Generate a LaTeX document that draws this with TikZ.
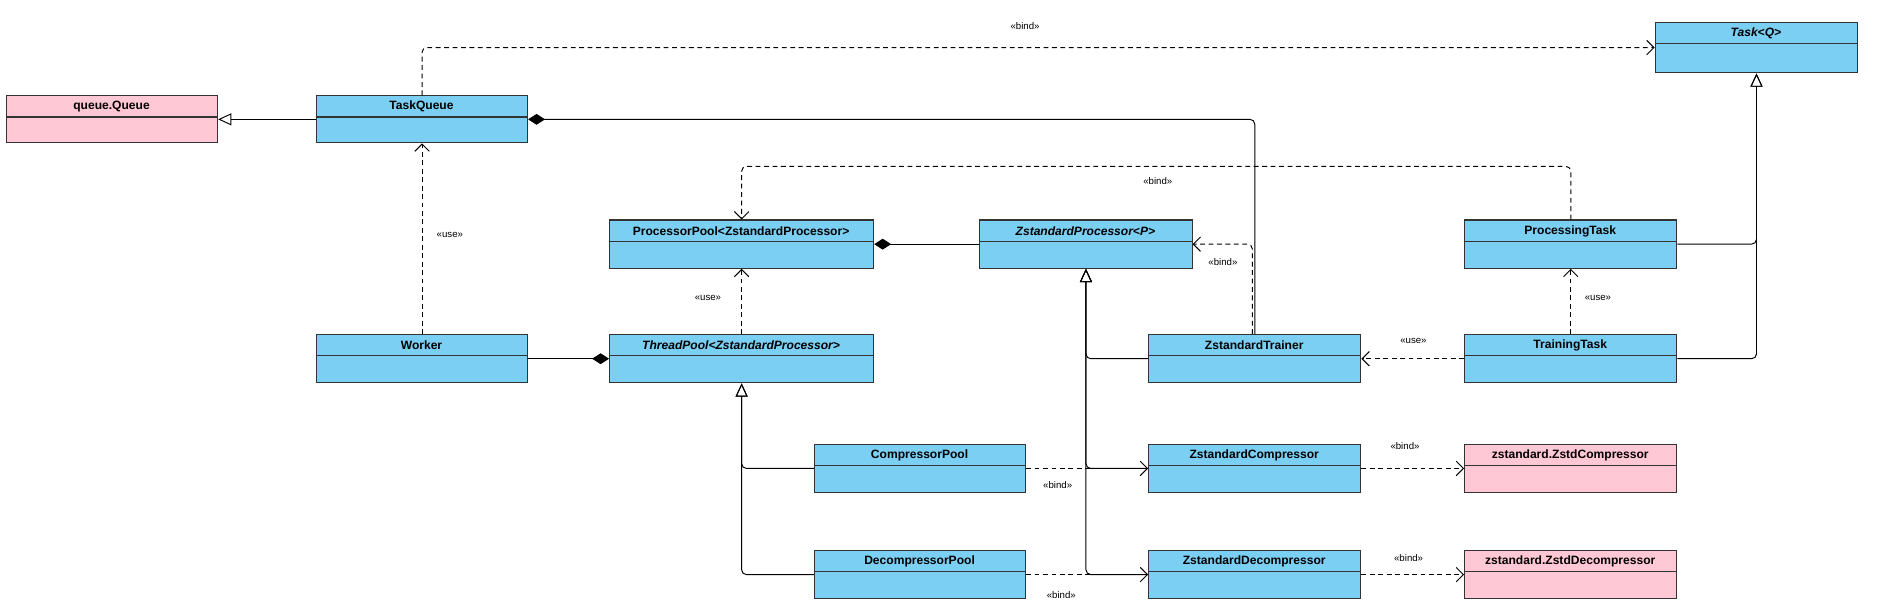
\documentclass[tikz,border=0pt]{standalone}
\usepackage{fontspec}
\setmainfont{Liberation Sans}
\usetikzlibrary{arrows.meta,calc}
\definecolor{ublue}{HTML}{7ACFF3}
\definecolor{upink}{HTML}{FFC8D4}
\newcommand\ubox[7]{%
 \node[box,fill=#7,minimum width={#4pt-#2pt},minimum height={#5pt-#3pt},anchor=north west] (#1) at (#2,#3) {};
 \draw[line width=0.9pt,black!80] (#2,#3+18) -- (#4,#3+18);
 \node[htext] (#1-t) at ({(#2+#4)/2},#3+9.5) {#6};}
\begin{document}
\begin{tikzpicture}[x=1pt,y=-1pt,
 box/.style={draw=black!80,line width=0.9pt,inner sep=0pt},
 htext/.style={font=\fontsize{10}{12}\selectfont\bfseries,inner sep=0pt},
 lbl/.style={font=\fontsize{8}{10}\selectfont,inner sep=0pt},
 conn/.style={line width=0.8pt,rounded corners=4pt},
 dashd/.style={conn,dash pattern=on 4pt off 3pt},
 gen/.style={conn,-{Triangle[open,length=11pt,width=10pt]}},
 dep/.style={dashd,-{Straight Barb[length=6pt,width=12pt]}},
 comp/.style={conn,{Diamond[length=14pt,width=9pt]}-},
 compe/.style={conn,-{Diamond[length=14pt,width=9pt]}}]
\useasboundingbox (0,0) rectangle (1568,506.6);
\ubox{qq}{5}{79}{180}{118}{queue.Queue}{upink}
\ubox{tq}{262}{79}{437}{118}{TaskQueue}{ublue}
\ubox{task}{1372}{18}{1540}{60}{\itshape Task<Q>}{ublue}
\ubox{pp}{505}{182}{724}{222}{ProcessorPool<ZstandardProcessor>}{ublue}
\ubox{zp}{812}{182}{988}{222}{\itshape ZstandardProcessor<P>}{ublue}
\ubox{pt}{1214}{182}{1390}{222}{ProcessingTask}{ublue}
\ubox{w}{262}{277}{437}{317}{Worker}{ublue}
\ubox{tp}{505}{277}{724}{317}{\itshape ThreadPool<ZstandardProcessor>}{ublue}
\ubox{tr}{952}{277}{1128}{317}{ZstandardTrainer}{ublue}
\ubox{tt}{1214}{277}{1390}{317}{TrainingTask}{ublue}
\ubox{cp}{675}{368}{850}{408}{CompressorPool}{ublue}
\ubox{zc}{952}{368}{1128}{408}{ZstandardCompressor}{ublue}
\ubox{zsc}{1214}{368}{1390}{408}{zstandard.ZstdCompressor}{upink}
\ubox{dp}{675}{456}{850}{496}{DecompressorPool}{ublue}
\ubox{zd}{952}{456}{1128}{496}{ZstandardDecompressor}{ublue}
\ubox{zsd}{1214}{456}{1390}{496}{zstandard.ZstdDecompressor}{upink}
\coordinate (c1) at (1302,138);
% connectors
\draw[gen] (tq.west) -- (qq.east);
\draw[comp] (tq.east) -| (tr.north);
\draw[dep] (tq.north) |- (task.west);
\draw[dep] (w.north) -- (tq.south);
\draw[compe] (w.east) -- (tp.west);
\draw[dep] (tp.north) -- (pp.south);
\draw[comp] (pp.east) -- (zp.west);
\draw[dep] (pt.north) -- (pt.north |- c1) -| (pp.north);
\draw[gen] (pt.east) -| (task.south);
\draw[gen] (tt.east) -| (task.south);
\draw[dep] ([xshift=-2pt]tr.north) |- (zp.east);
\draw[gen] (tr.west) -| (zp.south);
\draw[gen] (zc.west) -| (zp.south);
\draw[gen] (zd.west) -| (zp.south);
\draw[dep] (cp.east) -- (zc.west);
\draw[dep] (dp.east) -- (zd.west);
\draw[dep] (tt.west) -- (tr.east);
\draw[dep] (tt.north) -- (pt.south);
\draw[gen] (cp.west) -| (tp.south);
\draw[gen] (dp.west) -| (tp.south);
\draw[dep] (zc.east) -- (zsc.west);
\draw[dep] (zd.east) -- (zsd.west);
% labels
\node[lbl] (l1) at (850,22) {<<bind>>};
\node[lbl] (l2) at (373,195) {<<use>>};
\node[lbl] (l3) at (587,247) {<<use>>};
\node[lbl] (l4) at (960,150) {<<bind>>};
\node[lbl] (l5) at (1014,217) {<<bind>>};
\node[lbl] (l6) at (1325,247) {<<use>>};
\node[lbl] (l7) at (1172,283) {<<use>>};
\node[lbl] (l8) at (877,402) {<<bind>>};
\node[lbl] (l9) at (1165,370) {<<bind>>};
\node[lbl] (l10) at (880,493) {<<bind>>};
\node[lbl] (l11) at (1168,463) {<<bind>>};
\end{tikzpicture}
\end{document}
